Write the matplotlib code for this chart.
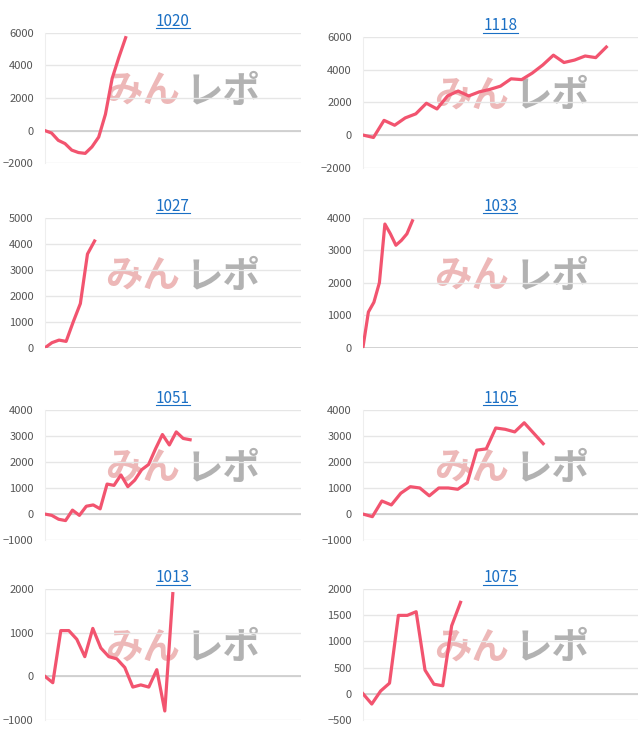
import matplotlib.pyplot as plt

plt.rcParams['font.family'] = ['Noto Sans CJK JP', 'DejaVu Sans']

titles = ['1020', '1118', '1027', '1033', '1051', '1105', '1013', '1075']
v1020 = [0, -150, -600, -800, -1200, -1350, -1400, -1000, -400, 1000, 3200, 4500, 5700]
v1118 = [0, -150, 900, 600, 1050, 1300, 1950, 1600, 2400, 2700, 2400, 2650, 2800, 3000,
         3450, 3400, 3800, 4300, 4900, 4450, 4600, 4850, 4750, 5400]
v1027 = [0, 200, 300, 250, 1000, 1700, 3600, 4100]
v1033 = [0, 1100, 1400, 2000, 3800, 3500, 3150, 3300, 3500, 3900]
v1051 = [0, -50, -200, -250, 150, -50, 300, 350, 200, 1150, 1100, 1500, 1050, 1300,
         1700, 1900, 2500, 3050, 2650, 3150, 2900, 2850]
v1105 = [0, -100, 500, 350, 800, 1050, 1000, 700, 1000, 1000, 950, 1200, 2450, 2500,
         3300, 3250, 3150, 3500, 3100, 2700]
v1013 = [0, -150, 1050, 1050, 850, 450, 1100, 650, 450, 400, 200, -250, -200, -250,
         150, -800, 1900]
v1075 = [0, -200, 50, 200, 1500, 1500, 1570, 450, 180, 150, 1300, 1750]
series = [v1020, v1118, v1027, v1033, v1051, v1105, v1013, v1075]

ylims = [(-2000, 6000), (-2000, 6000), (0, 5000), (0, 4000),
         (-1000, 4000), (-1000, 4000), (-1000, 2000), (-500, 2000)]
yticks = [range(-2000, 6001, 2000), range(-2000, 6001, 2000), range(0, 5001, 1000),
          range(0, 4001, 1000), range(-1000, 4001, 1000), range(-1000, 4001, 1000),
          range(-1000, 2001, 1000), range(-500, 2001, 500)]
xmax = [38, 26, 36, 50, 37, 29, 32, 31]

fig = plt.figure(figsize=(6.4, 7.45), dpi=100)
lefts = [0.07, 0.567]
widths = [0.40, 0.43]
bottoms = [0.781, 0.533, 0.275, 0.034]
for i, (t, v) in enumerate(zip(titles, series)):
    r, c = divmod(i, 2)
    b = bottoms[r] - (0.006 if (r == 0 and c == 1) else 0)
    ax = fig.add_axes([lefts[c], b, widths[c], 0.175])
    ax.plot(range(len(v)), v, color='#f2546f', lw=2.3, zorder=3)
    ax.set_xlim(0, xmax[i])
    ax.set_ylim(*ylims[i])
    ax.set_yticks(list(yticks[i]))
    ax.tick_params(axis='y', labelsize=8, colors='#555555', length=0, pad=8)
    ax.set_xticks([])
    ax.grid(axis='y', color='#e6e6e6', lw=1)
    ax.axhline(0, color='#cccccc', lw=1.2, zorder=2)
    for s in ['top', 'right', 'bottom']:
        ax.spines[s].set_visible(False)
    ax.spines['left'].set_color('#eeeeee')
    ax.set_title(t, color='#1a6fc4', fontsize=11, pad=5)
    ax.text(0.53, 0.55, 'みん', transform=ax.transAxes, fontsize=27, fontweight='bold',
            fontstyle='italic', color='#e8a0a0', alpha=0.75, ha='right', va='center', zorder=1)
    ax.text(0.55, 0.55, 'レポ', transform=ax.transAxes, fontsize=27, fontweight='bold',
            fontstyle='italic', color='#999999', alpha=0.75, ha='left', va='center', zorder=1)
    # underline the title
    fig.canvas.draw()
    bb = ax.title.get_window_extent().transformed(fig.transFigure.inverted())
    fig.add_artist(plt.Line2D([bb.x0, bb.x1], [bb.y0 + 0.002, bb.y0 + 0.002],
                              color='#1a6fc4', lw=0.8))

fig.savefig('out.png', dpi=100)
